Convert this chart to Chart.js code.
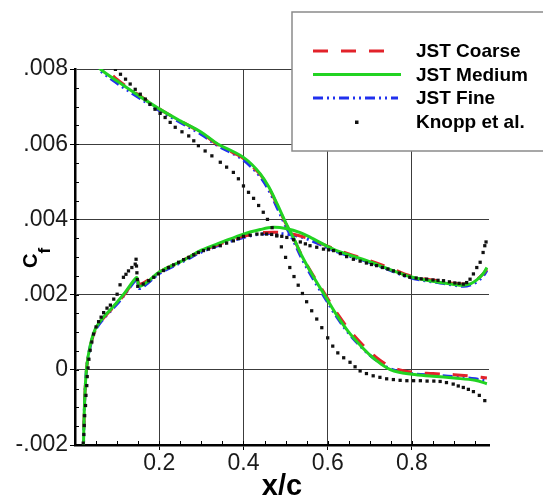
<!DOCTYPE html>
<html>
<head>
<meta charset="utf-8">
<script src="https://cdn.jsdelivr.net/npm/chart.js@4"></script>
<style>
  html, body { margin: 0; padding: 0; background: #fff; }
</style>
</head>
<body>
<canvas id="cfChart" width="543" height="502"></canvas>
<script>
// Skin friction along the chord, [x/c, Cf], upper surface then lower surface
const coarseUpper = [
  [0.04, 0.0083], [0.07, 0.00805], [0.1, 0.00772], [0.15, 0.00732], [0.2, 0.00694], [0.25, 0.00662],
  [0.3, 0.0063], [0.34, 0.00598], [0.38, 0.00575], [0.4, 0.00562], [0.42, 0.00542], [0.44, 0.00519],
  [0.46, 0.00485], [0.48, 0.00438], [0.5, 0.0039], [0.52, 0.00347], [0.54, 0.00301], [0.57, 0.00243],
  [0.592, 0.00204], [0.62, 0.00154], [0.65, 0.00108], [0.68, 0.0007], [0.71, 0.00038], [0.75, 0.00008],
  [0.8, -0.00006], [0.85, -0.0001], [0.9, -0.00013], [0.95, -0.00018], [0.978, -0.00022]
];
const coarseLower = [
  [0.0195, -0.0023], [0.023, -0.00079], [0.028, 0.00009], [0.036, 0.00062], [0.048, 0.00105], [0.064, 0.00132],
  [0.08, 0.00153], [0.096, 0.00172], [0.119, 0.00203], [0.139, 0.00235], [0.147, 0.00244], [0.153, 0.00228],
  [0.175, 0.0024], [0.2, 0.0026], [0.26, 0.00294], [0.3, 0.00316], [0.35, 0.00337], [0.4, 0.00355],
  [0.44, 0.00364], [0.47, 0.00366], [0.5, 0.00364], [0.535, 0.00356], [0.566, 0.00344], [0.613, 0.00323],
  [0.65, 0.00308], [0.693, 0.00293], [0.75, 0.0027], [0.795, 0.0025], [0.835, 0.00241], [0.867, 0.00236],
  [0.9, 0.0023], [0.922, 0.00228], [0.94, 0.00232], [0.954, 0.0024], [0.968, 0.00254], [0.978, 0.00268]
];
const mediumUpper = [
  [0.04, 0.00825], [0.06, 0.008], [0.1, 0.00768], [0.15, 0.0073], [0.2, 0.00694], [0.25, 0.00662],
  [0.3, 0.00632], [0.34, 0.006], [0.38, 0.00578], [0.4, 0.00565], [0.42, 0.00546], [0.44, 0.00521],
  [0.46, 0.00487], [0.48, 0.00441], [0.5, 0.00392], [0.52, 0.00348], [0.54, 0.003], [0.57, 0.0024],
  [0.592, 0.002], [0.62, 0.00148], [0.65, 0.001], [0.68, 0.00062], [0.71, 0.0003], [0.75, 0],
  [0.8, -0.00012], [0.85, -0.00017], [0.9, -0.00022], [0.95, -0.00028], [0.978, -0.00037]
];
const mediumLower = [
  [0.0195, -0.0023], [0.023, -0.00078], [0.028, 0.0001], [0.036, 0.00064], [0.048, 0.00108], [0.064, 0.00135],
  [0.08, 0.00155], [0.096, 0.00175], [0.119, 0.00206], [0.139, 0.00237], [0.147, 0.00245], [0.153, 0.00222],
  [0.175, 0.00237], [0.2, 0.0026], [0.26, 0.00293], [0.3, 0.00318], [0.35, 0.0034], [0.4, 0.00361],
  [0.44, 0.00373], [0.47, 0.00379], [0.5, 0.00376], [0.535, 0.00365], [0.566, 0.00348], [0.613, 0.00321],
  [0.65, 0.00306], [0.693, 0.0029], [0.75, 0.00266], [0.795, 0.00248], [0.835, 0.00238], [0.867, 0.00232],
  [0.9, 0.00227], [0.922, 0.00225], [0.94, 0.00229], [0.954, 0.00239], [0.968, 0.00254], [0.978, 0.00272]
];
const fineUpper = [
  [0.04, 0.00822], [0.06, 0.00796], [0.1, 0.00762], [0.15, 0.00725], [0.2, 0.0069], [0.25, 0.00658],
  [0.3, 0.00626], [0.34, 0.00595], [0.38, 0.00572], [0.4, 0.00558], [0.42, 0.00538], [0.44, 0.00513],
  [0.46, 0.00478], [0.48, 0.00431], [0.5, 0.00383], [0.52, 0.0034], [0.54, 0.00293], [0.57, 0.00233],
  [0.592, 0.00194], [0.62, 0.00143], [0.65, 0.00097], [0.68, 0.0006], [0.71, 0.0003], [0.75, 0.00002],
  [0.8, -0.0001], [0.85, -0.00014], [0.9, -0.00018], [0.95, -0.00024], [0.978, -0.0003]
];
const fineLower = [
  [0.0195, -0.0023], [0.023, -0.0008], [0.028, 0.00008], [0.036, 0.00061], [0.048, 0.00104], [0.064, 0.00131],
  [0.08, 0.00151], [0.096, 0.0017], [0.119, 0.00201], [0.139, 0.00232], [0.147, 0.0024], [0.153, 0.00216],
  [0.175, 0.00233], [0.2, 0.00256], [0.26, 0.0029], [0.3, 0.00313], [0.35, 0.00334], [0.4, 0.00352],
  [0.44, 0.00361], [0.47, 0.00363], [0.5, 0.00361], [0.535, 0.00354], [0.566, 0.00341], [0.613, 0.00318],
  [0.65, 0.00303], [0.693, 0.00288], [0.75, 0.00264], [0.795, 0.00245], [0.835, 0.00236], [0.867, 0.00231],
  [0.9, 0.00225], [0.922, 0.00222], [0.94, 0.00226], [0.954, 0.00234], [0.968, 0.00248], [0.978, 0.00264]
];
// Knopp et al. measurements
const knoppUpper = [
  [0.096, 0.00799], [0.108, 0.00786], [0.12, 0.00773], [0.131, 0.0076], [0.143, 0.00746], [0.155, 0.00733],
  [0.167, 0.0072], [0.178, 0.00706], [0.19, 0.00693], [0.202, 0.00682], [0.214, 0.00671], [0.226, 0.00658],
  [0.238, 0.00645], [0.254, 0.00633], [0.27, 0.00622], [0.282, 0.00609], [0.293, 0.00596], [0.309, 0.00582],
  [0.325, 0.00569], [0.345, 0.00552], [0.36, 0.00539], [0.376, 0.00525], [0.388, 0.00508], [0.4, 0.00489],
  [0.412, 0.00472], [0.424, 0.00456], [0.436, 0.00437], [0.447, 0.00419], [0.457, 0.004], [0.468, 0.00378],
  [0.479, 0.00356], [0.49, 0.00327], [0.5, 0.00299], [0.51, 0.00272], [0.52, 0.00248], [0.53, 0.00225],
  [0.54, 0.00203], [0.55, 0.00181], [0.562, 0.00157], [0.574, 0.00135], [0.586, 0.00112], [0.6, 0.00085],
  [0.612, 0.00063], [0.624, 0.00045], [0.638, 0.00032], [0.653, 0.0002], [0.665, 0.00008], [0.677, -0.00003],
  [0.692, -0.0001], [0.708, -0.00016], [0.724, -0.0002], [0.74, -0.00024], [0.756, -0.00026], [0.772, -0.00028],
  [0.788, -0.00029], [0.804, -0.00029], [0.82, -0.00029], [0.836, -0.0003], [0.852, -0.0003], [0.867, -0.00031],
  [0.882, -0.00034], [0.898, -0.00038], [0.91, -0.00043], [0.922, -0.00047], [0.934, -0.00052], [0.946, -0.00058],
  [0.96, -0.00068], [0.973, -0.00082]
];
const knoppLower = [
  [0.0195, -0.00195], [0.021, -0.00172], [0.022, -0.00148], [0.023, -0.00122], [0.025, -0.00095], [0.026, -0.00068],
  [0.028, -0.00042], [0.029, -0.00018], [0.031, 0.00005], [0.033, 0.00028], [0.036, 0.00052], [0.04, 0.00074],
  [0.044, 0.00095], [0.05, 0.00114], [0.056, 0.00128], [0.062, 0.0014], [0.068, 0.00152], [0.076, 0.00164],
  [0.084, 0.00172], [0.092, 0.00188], [0.1, 0.00201], [0.107, 0.00226], [0.115, 0.00246], [0.121, 0.00254],
  [0.127, 0.00263], [0.135, 0.00272], [0.143, 0.00281], [0.145, 0.00294], [0.146, 0.00276], [0.147, 0.00258],
  [0.148, 0.0024], [0.149, 0.00222], [0.162, 0.00228], [0.175, 0.00237], [0.187, 0.00246], [0.198, 0.00255],
  [0.21, 0.00264], [0.222, 0.00272], [0.234, 0.00279], [0.246, 0.00286], [0.258, 0.00293], [0.27, 0.00299],
  [0.282, 0.00306], [0.293, 0.00312], [0.305, 0.00317], [0.317, 0.00321], [0.33, 0.00326], [0.345, 0.0033],
  [0.36, 0.00337], [0.376, 0.00343], [0.388, 0.00349], [0.4, 0.00355], [0.416, 0.00358], [0.432, 0.00361],
  [0.444, 0.00361], [0.455, 0.00361], [0.467, 0.0036], [0.479, 0.00358], [0.491, 0.00355], [0.503, 0.00352],
  [0.519, 0.00346], [0.535, 0.0034], [0.547, 0.00335], [0.558, 0.0033], [0.574, 0.00326], [0.59, 0.00321],
  [0.602, 0.00319], [0.614, 0.00317], [0.63, 0.00309], [0.645, 0.00301], [0.661, 0.00294], [0.677, 0.00289],
  [0.692, 0.00284], [0.704, 0.0028], [0.716, 0.00277], [0.73, 0.00272], [0.743, 0.00268], [0.756, 0.00263],
  [0.77, 0.00257], [0.782, 0.00251], [0.795, 0.00246], [0.81, 0.00244], [0.822, 0.00242], [0.835, 0.00241],
  [0.85, 0.00239], [0.862, 0.00238], [0.875, 0.00237], [0.889, 0.00234], [0.902, 0.00231], [0.912, 0.0023],
  [0.922, 0.00228], [0.93, 0.00232], [0.938, 0.00241], [0.946, 0.00255], [0.954, 0.00272], [0.962, 0.00286],
  [0.969, 0.00312], [0.973, 0.0033], [0.976, 0.0034]
];

const xTicks = [0.2, 0.4, 0.6, 0.8];
const yTicks = [-0.002, 0, 0.002, 0.004, 0.006, 0.008];
const xMinorStep = 0.05;
const yMinorStep = 0.0005;

const FONT = "'Liberation Sans', Arial, Helvetica, sans-serif";

const toPoints = arr => arr.map(p => ({ x: p[0], y: p[1] }));

// both surfaces in one dataset, with a gap so the line is not joined
function surfaces(upper, lower) {
  const gap = { x: upper[upper.length - 1][0], y: null };
  return toPoints(upper).concat([gap], toPoints(lower));
}

// minor ticks, axis titles and the boxed legend
const plotExtras = {
  id: 'plotExtras',
  afterDraw(chart) {
    const { ctx, chartArea: a, scales: { x, y } } = chart;
    ctx.save();

    ctx.strokeStyle = '#000';
    ctx.lineWidth = 1;
    ctx.beginPath();
    for (let i = 1; i * xMinorStep < x.max; i++) {
      const px = Math.round(x.getPixelForValue(i * xMinorStep)) + 0.5;
      ctx.moveTo(px, a.bottom);
      ctx.lineTo(px, a.bottom - 4);
    }
    for (let i = 1; y.min + i * yMinorStep < y.max; i++) {
      const py = Math.round(y.getPixelForValue(y.min + i * yMinorStep)) + 0.5;
      ctx.moveTo(a.left, py);
      ctx.lineTo(a.left + 4, py);
    }
    ctx.stroke();

    // axis titles
    ctx.fillStyle = '#000';
    ctx.font = 'bold 29px ' + FONT;
    ctx.textAlign = 'center';
    ctx.textBaseline = 'middle';
    ctx.fillText('x/c', (a.left + a.right) / 2, 487);

    ctx.save();
    ctx.translate(37, 268);
    ctx.rotate(-Math.PI / 2);
    ctx.textAlign = 'left';
    ctx.textBaseline = 'alphabetic';
    ctx.font = 'bold 20px ' + FONT;
    ctx.fillText('C', 0, 0);
    const cw = ctx.measureText('C').width;
    ctx.font = 'bold 17px ' + FONT;
    ctx.fillText('f', cw, 13);
    ctx.restore();

    // legend
    ctx.fillStyle = '#fff';
    ctx.fillRect(292, 12, 260, 139);
    ctx.strokeStyle = '#8a8a8a';
    ctx.lineWidth = 1.5;
    ctx.strokeRect(292, 12, 260, 139);

    const rows = [51, 74.5, 98, 122];
    const ends = [387, 401, 398];
    ctx.font = 'bold 19px ' + FONT;
    ctx.textAlign = 'left';
    ctx.textBaseline = 'middle';
    chart.data.datasets.forEach((ds, i) => {
      const ry = rows[i];
      if (ds.showLine) {
        ctx.save();
        ctx.strokeStyle = ds.borderColor;
        ctx.lineWidth = ds.borderWidth;
        ctx.setLineDash(ds.borderDash || []);
        ctx.beginPath();
        ctx.moveTo(313, ry);
        ctx.lineTo(ends[i], ry);
        ctx.stroke();
        ctx.restore();
      } else {
        ctx.fillStyle = ds.backgroundColor;
        ctx.fillRect(355, ry - 1.5, 3.5, 3.5);
      }
      ctx.fillStyle = '#000';
      ctx.fillText(ds.label, 416, ry + 1);
    });

    ctx.restore();
  }
};

const lineCommon = { showLine: true, pointRadius: 0, borderWidth: 3, tension: 0.35, fill: false };

new Chart(document.getElementById('cfChart'), {
  type: 'scatter',
  data: {
    datasets: [
      Object.assign({ label: 'JST Coarse', data: surfaces(coarseUpper, coarseLower),
        borderColor: '#e2222a', borderDash: [15, 13], order: 2 }, lineCommon),
      Object.assign({ label: 'JST Medium', data: surfaces(mediumUpper, mediumLower),
        borderColor: '#22d322', order: 1 }, lineCommon),
      Object.assign({ label: 'JST Fine', data: surfaces(fineUpper, fineLower),
        borderColor: '#2030ee', borderDash: [10, 4, 2, 4, 2, 4], order: 3 }, lineCommon),
      { label: 'Knopp et al.', data: toPoints(knoppUpper).concat(toPoints(knoppLower)),
        showLine: false, pointStyle: 'rect', pointRadius: 2.3, borderWidth: 0,
        backgroundColor: '#111', order: 0 }
    ]
  },
  options: {
    responsive: false,
    animation: false,
    layout: { padding: { top: 69, right: 54, left: 0, bottom: 0 } },
    plugins: {
      legend: { display: false },
      tooltip: { enabled: false }
    },
    scales: {
      x: {
        type: 'linear',
        min: 0,
        max: 0.983,
        afterBuildTicks: s => { s.ticks = xTicks.map(v => ({ value: v })); },
        afterFit: s => { s.height = 57; },
        grid: { color: '#3c3c3c', lineWidth: 1, tickLength: 5, tickColor: '#000' },
        border: { color: '#000', width: 2.5 },
        ticks: {
          font: { family: FONT, size: 23 },
          color: '#1a1a1a',
          padding: 0,
          maxRotation: 0,
          callback: v => v.toFixed(1)
        }
      },
      y: {
        type: 'linear',
        min: -0.002,
        max: 0.008,
        afterBuildTicks: s => { s.ticks = yTicks.map(v => ({ value: v })); },
        afterFit: s => { s.width = 75; },
        grid: { color: '#3c3c3c', lineWidth: 1, tickLength: 5, tickColor: '#000' },
        border: { color: '#000', width: 2.5 },
        ticks: {
          font: { family: FONT, size: 23 },
          color: '#1a1a1a',
          padding: 2,
          callback: v => v === 0 ? '0' : v.toFixed(3).replace('0.', '.')
        }
      }
    }
  },
  plugins: [plotExtras]
});
</script>
</body>
</html>
